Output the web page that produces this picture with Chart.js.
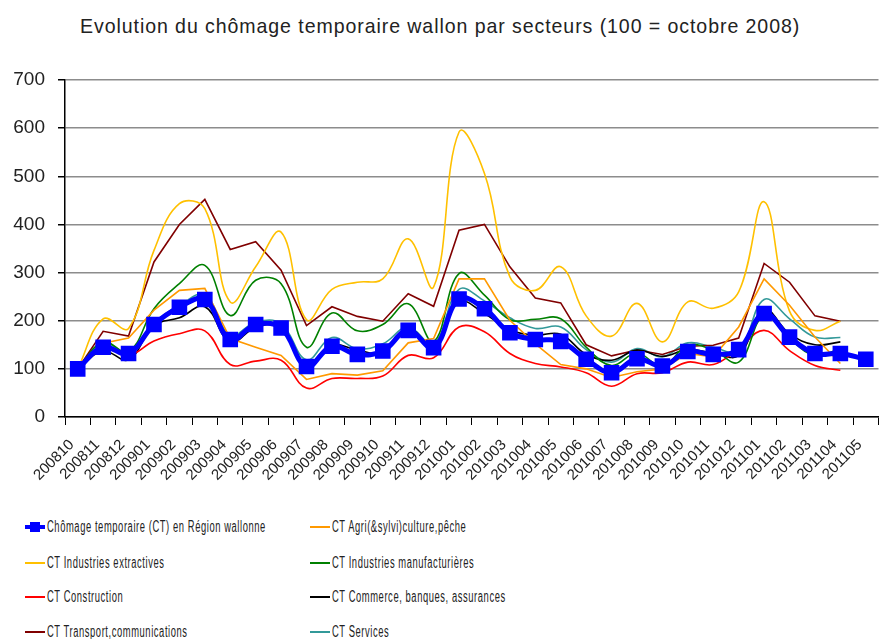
<!DOCTYPE html>
<html>
<head>
<meta charset="utf-8">
<script src="https://cdn.jsdelivr.net/npm/chart.js@4"></script>
<style>
  html, body { margin: 0; padding: 0; overflow: hidden; background: #fff; }
  body { width: 880px; height: 639px; position: relative; }
  #titre {
    position: absolute; left: 0; top: 14px; width: 880px; text-align: center;
    font-family: 'Liberation Sans', Arial, sans-serif;
    font-size: 21px; line-height: 24px; letter-spacing: 1px; color: #222;
  }
  #titre span { display: inline-block; transform-origin: center center; white-space: nowrap; }
  #graphe { position: absolute; left: 0; top: 0; }
  .legende-item {
    position: absolute; height: 20px; display: flex; align-items: center;
    font-family: 'Liberation Sans', Arial, sans-serif;
    font-size: 16px; letter-spacing: 1px; color: #222; white-space: nowrap;
  }
  .legende-item span { display: inline-block; transform-origin: left center; }
  .echantillon { position: relative; width: 20px; height: 20px; margin-right: 2px; }
  .echantillon .trait { position: absolute; left: 0; right: 0; top: 9px; height: 2px; }
  .echantillon .carre { position: absolute; left: 5px; top: 5px; width: 10px; height: 10px; }
</style>
</head>
<body>
<div id="titre"><span>Evolution du chômage temporaire wallon par secteurs (100 = octobre 2008)</span></div>
<canvas id="graphe" width="891" height="500"></canvas>
<div id="legende"></div>
<script>
// Mois (axe X)
const mois = ['200810','200811','200812','200901','200902','200903','200904','200905','200906','200907',
  '200908','200909','200910','200911','200912','201001','201002','201003','201004','201005',
  '201006','201007','201008','201009','201010','201011','201012','201101','201102','201103',
  '201104','201105'];

// Séries (indice 100 = octobre 2008)
const regionWallonne = [100,145,132,192,228,244,161,192,185,105,147,130,137,180,144,245,225,175,161,157,120,92,121,106,136,130,140,215,166,132,132,120];
const agriculture = [100,153,164,222,263,267,163,145,128,78,90,87,96,154,163,287,287,201,152,109,100,82,94,100,132,125,187,287,232,166,111,null];
const extractives = [100,204,184,346,443,433,239,312,384,202,265,280,287,370,270,592,506,291,263,312,210,168,236,156,239,226,260,447,220,180,199,null];
const manufacturieres = [100,156,135,225,277,315,211,284,277,145,216,179,192,235,157,298,253,202,203,204,145,107,133,105,149,139,114,211,163,128,142,null];
const construction = [100,142,128,158,173,179,109,116,118,60,80,80,85,128,123,187,177,132,111,104,92,64,90,92,114,109,142,180,138,107,97,null];
const commerce = [100,137,119,190,206,229,156,186,187,111,150,139,134,183,149,239,215,181,170,172,130,118,139,126,140,133,128,223,173,150,156,null];
const transport = [100,178,168,322,400,452,348,364,305,190,229,209,199,256,230,388,400,312,247,237,150,127,139,130,147,149,164,319,280,210,199,null];
const services = [100,154,135,195,232,253,170,197,194,119,165,142,152,187,152,265,241,206,184,187,140,114,142,125,154,145,137,244,204,166,165,null];

// Libellés et couleurs
const libelles = ['Chômage temporaire (CT) en Région wallonne','CT Agri(&sylvi)culture,pêche','CT Industries extractives',
  'CT Industries manufacturières','CT Construction','CT Commerce, banques, assurances','CT Transport,communications','CT Services'];
const couleurs = ['#0000ff','#ff9900','#ffc000','#008000','#ff0000','#000000','#800000','#339999'];
const yTicks = [0,100,200,300,400,500,600,700];

const series = [regionWallonne, agriculture, extractives, manufacturieres, construction, commerce, transport, services];
const lissees = [true, false, true, true, true, true, false, true];

const datasets = series.map((d, i) => ({
  label: libelles[i],
  data: d,
  borderColor: couleurs[i],
  backgroundColor: couleurs[i],
  borderWidth: i === 0 ? 5 : 1.6,
  tension: lissees[i] ? 0.4 : 0,
  pointStyle: 'rect',
  pointRadius: i === 0 ? 7.5 : 0,
  pointHoverRadius: i === 0 ? 7.5 : 0,
  fill: false,
  spanGaps: false
}));

new Chart(document.getElementById('graphe').getContext('2d'), {
  type: 'line',
  data: { labels: mois, datasets: datasets },
  options: {
    responsive: false,
    animation: false,
    layout: { padding: { top: 80, left: 0, right: 0, bottom: 0 } },
    plugins: {
      legend: { display: false },
      title: { display: false },
      tooltip: { enabled: false }
    },
    scales: {
      x: {
        offset: true,
        afterFit: function(scale) { scale.height = 83; },
        grid: { offset: true, drawOnChartArea: false, drawTicks: true, tickLength: 8, tickColor: '#000' },
        border: { color: '#000', width: 1.5 },
        ticks: {
          autoSkip: false, minRotation: 45, maxRotation: 45, padding: 11, labelOffset: -6,
          color: '#222', font: { family: "'Liberation Sans', Arial, sans-serif", size: 15 }
        }
      },
      y: {
        min: 0, max: 700,
        afterFit: function(scale) { scale.width = 65; },
        afterBuildTicks: function(scale) { scale.ticks = yTicks.map(v => ({ value: v })); },
        grid: { color: '#8c8c8c', lineWidth: 1.5, tickColor: '#000', tickLength: 7 },
        border: { color: '#000', width: 1.5 },
        ticks: {
          padding: 13, color: '#222',
          font: { family: "'Liberation Sans', Arial, sans-serif", size: 19 }
        }
      }
    }
  }
});

// Titre resserré (police étroite simulée)
const titreSpan = document.querySelector('#titre span');
titreSpan.style.transform = 'scaleX(' + (720 / titreSpan.offsetWidth) + ')';

// Légende sur deux colonnes
const legende = document.getElementById('legende');
const lignesY = [517, 553, 587, 622];
const spans = [];
libelles.forEach((txt, i) => {
  const item = document.createElement('div');
  item.className = 'legende-item';
  item.style.left = (i % 2 === 0 ? 25 : 310) + 'px';
  item.style.top = lignesY[Math.floor(i / 2)] + 'px';
  const ech = document.createElement('div');
  ech.className = 'echantillon';
  const trait = document.createElement('div');
  trait.className = 'trait';
  trait.style.background = couleurs[i];
  if (i === 0) { trait.style.height = '4px'; trait.style.top = '8px'; }
  ech.appendChild(trait);
  if (i === 0) {
    const carre = document.createElement('div');
    carre.className = 'carre';
    carre.style.background = couleurs[i];
    ech.appendChild(carre);
  }
  item.appendChild(ech);
  const span = document.createElement('span');
  span.textContent = txt;
  item.appendChild(span);
  legende.appendChild(item);
  spans.push(span);
});
const facteur = 219 / spans[0].offsetWidth;
spans.forEach(s => { s.style.transform = 'scaleX(' + facteur + ')'; });
</script>
</body>
</html>
